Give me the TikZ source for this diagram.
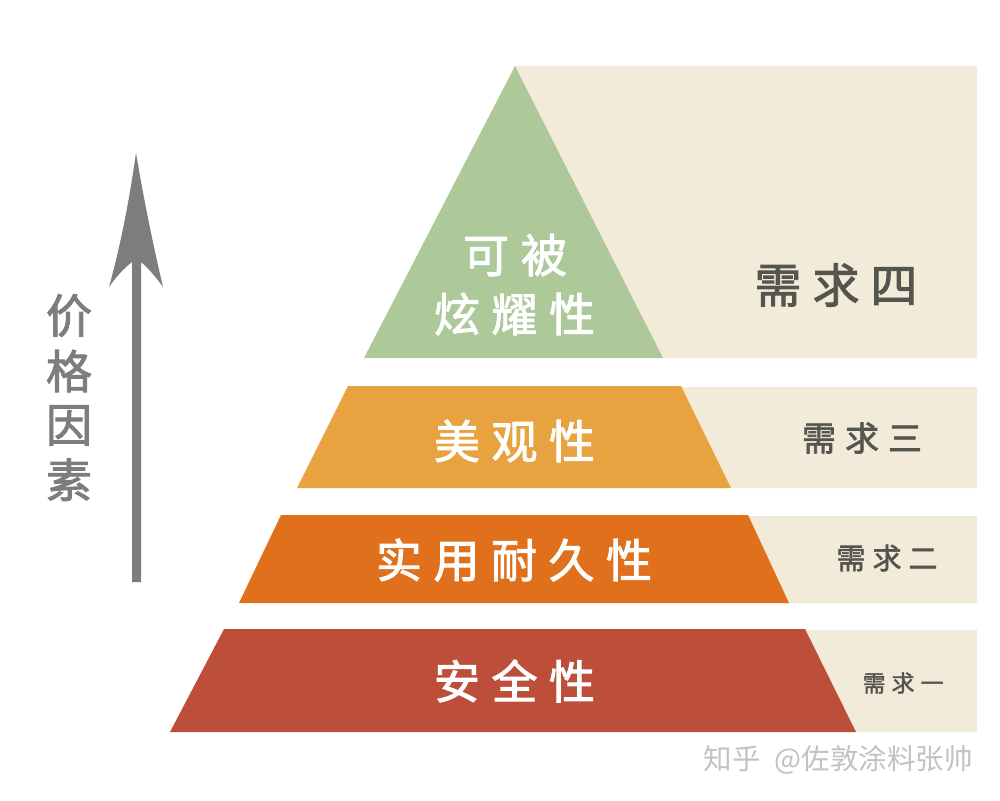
\documentclass[tikz,border=0pt]{standalone}
\usepackage{fontspec}
\setmainfont{Noto Sans CJK SC}
\newfontfamily\medfont[FakeBold=1.2]{Noto Sans CJK SC}
\newfontfamily\strongfont[FakeBold=2]{Noto Sans CJK SC}
\definecolor{cream}{HTML}{F3EBD9}
\definecolor{greenp}{HTML}{ADC999}
\definecolor{orangep}{HTML}{E8A23F}
\definecolor{deepo}{HTML}{E0701C}
\definecolor{redp}{HTML}{BD4E39}
\definecolor{txt}{HTML}{555550}
\definecolor{arrowc}{HTML}{7F7D7B}
\definecolor{wm}{HTML}{C2C2C2}
\tikzset{
  tierlabel/.style={text=white,font=\strongfont,inner sep=0pt,anchor=center},
  needlabel/.style={text=txt,font=\strongfont,inner sep=0pt,anchor=center},
}
\newcommand{\sz}[1]{\fontsize{#1}{#1}\selectfont}
\newcommand{\gp}[1]{\hspace{#1pt}}
\begin{document}
\begin{tikzpicture}[x=1pt,y=-1pt]
\useasboundingbox (0,0) rectangle (1000,800);
\fill[white] (0,0) rectangle (1000,800);
% cream
\fill[cream] (515,66) -- (977,66) -- (977,358) -- (663,358) -- cycle;
\fill[cream] (680,387) -- (977,387) -- (977,488) -- (731,488) -- cycle;
\fill[cream] (748,516) -- (977,516) -- (977,603) -- (789,603) -- cycle;
\fill[cream] (805,630) -- (977,630) -- (977,732) -- (856,732) -- cycle;
% tiers
\fill[greenp] (515,66) -- (663,358) -- (364,358) -- cycle;
\fill[orangep] (348,386) -- (681,386) -- (731,488) -- (297,488) -- cycle;
\fill[deepo] (281,515) -- (748,515) -- (789,603) -- (239,603) -- cycle;
\fill[redp] (224,629) -- (805,629) -- (856,732) -- (170,732) -- cycle;
% labels
\node[tierlabel] (t1a) at (515,255) {\sz{46}可\gp{12}被};
\node[tierlabel] (t1b) at (514.5,314) {\sz{46}炫\gp{11.5}耀\gp{11.5}性};
\node[tierlabel] (t2) at (514.5,441) {\sz{46}美\gp{11.5}观\gp{11.5}性};
\node[tierlabel] (t3) at (514,560) {\sz{46}实\gp{11.5}用\gp{11.5}耐\gp{11.5}久\gp{11.5}性};
\node[tierlabel] (t4) at (514.5,681) {\sz{46}安\gp{11.5}全\gp{11.5}性};
\node[needlabel] (n4) at (836,285) {\sz{47}需\gp{11}求\gp{11}四};
\node[needlabel] (n3) at (862,438) {\sz{34}需\gp{9}求\gp{9}三};
\node[needlabel] (n2) at (887,558) {\sz{29}需\gp{7}求\gp{7}二};
\node[needlabel] (n1) at (903,683) {\sz{23}需\gp{6}求\gp{6}一};
% axis
\node[text=arrowc,font=\strongfont,inner sep=0pt,align=center] (axis) at (69,397.5) {\sz{46}价\\[12pt]\sz{46}格\\[12pt]\sz{46}因\\[12pt]\sz{46}素};
\fill[arrowc] (132,582) -- (141,582) -- (141,262) .. controls (148,268) and (156,277) .. (163,287) .. controls (152,240) and (143,195) .. (136,153) .. controls (130,195) and (122,240) .. (109,287) .. controls (116,277) and (124,268) .. (132,262) -- cycle;
\node[text=wm,inner sep=0pt,anchor=east] (wm) at (973,760) {\sz{28.5}知乎\gp{14}@佐敦涂料张帅};
\end{tikzpicture}
\end{document}
